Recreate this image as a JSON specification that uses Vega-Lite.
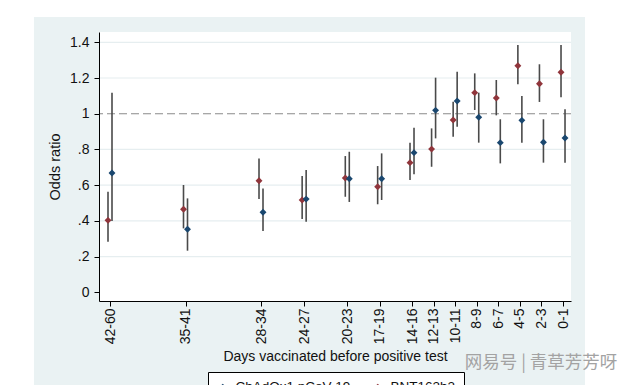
{
  "$schema": "https://vega.github.io/schema/vega-lite/v6.json",
  "width": 472,
  "height": 269,
  "autosize": "none",
  "padding": {"left": 99, "top": 32, "right": 69, "bottom": 84},
  "background": "white",
  "view": {"stroke": null},
  "config": {
    "font": "Liberation Sans",
    "axis": {
      "labelFont": "Liberation Sans",
      "titleFont": "Liberation Sans",
      "labelColor": "#111111",
      "titleColor": "#111111",
      "titleFontWeight": "normal",
      "domainColor": "#000000",
      "tickColor": "#000000",
      "domainWidth": 1,
      "tickWidth": 1,
      "tickSize": 5,
      "grid": false,
      "labelOverlap": false
    }
  },
  "datasets": {
    "estimates": [
      {"days": "42-60", "start": 42, "vaccine": "BNT162b2", "or": 0.403, "lo": 0.283, "hi": 0.563},
      {"days": "42-60", "start": 42, "vaccine": "ChAdOx1 nCoV-19", "or": 0.668, "lo": 0.40, "hi": 1.118},
      {"days": "35-41", "start": 35, "vaccine": "BNT162b2", "or": 0.465, "lo": 0.358, "hi": 0.601},
      {"days": "35-41", "start": 35, "vaccine": "ChAdOx1 nCoV-19", "or": 0.353, "lo": 0.233, "hi": 0.526},
      {"days": "28-34", "start": 28, "vaccine": "BNT162b2", "or": 0.625, "lo": 0.522, "hi": 0.750},
      {"days": "28-34", "start": 28, "vaccine": "ChAdOx1 nCoV-19", "or": 0.448, "lo": 0.343, "hi": 0.582},
      {"days": "24-27", "start": 24, "vaccine": "BNT162b2", "or": 0.517, "lo": 0.410, "hi": 0.651},
      {"days": "24-27", "start": 24, "vaccine": "ChAdOx1 nCoV-19", "or": 0.522, "lo": 0.395, "hi": 0.685},
      {"days": "20-23", "start": 20, "vaccine": "BNT162b2", "or": 0.640, "lo": 0.535, "hi": 0.763},
      {"days": "20-23", "start": 20, "vaccine": "ChAdOx1 nCoV-19", "or": 0.636, "lo": 0.506, "hi": 0.787},
      {"days": "17-19", "start": 17, "vaccine": "BNT162b2", "or": 0.591, "lo": 0.493, "hi": 0.707},
      {"days": "17-19", "start": 17, "vaccine": "ChAdOx1 nCoV-19", "or": 0.636, "lo": 0.517, "hi": 0.778},
      {"days": "14-16", "start": 14, "vaccine": "BNT162b2", "or": 0.726, "lo": 0.629, "hi": 0.838},
      {"days": "14-16", "start": 14, "vaccine": "ChAdOx1 nCoV-19", "or": 0.782, "lo": 0.661, "hi": 0.922},
      {"days": "12-13", "start": 12, "vaccine": "BNT162b2", "or": 0.802, "lo": 0.703, "hi": 0.918},
      {"days": "12-13", "start": 12, "vaccine": "ChAdOx1 nCoV-19", "or": 1.019, "lo": 0.862, "hi": 1.202},
      {"days": "10-11", "start": 10, "vaccine": "BNT162b2", "or": 0.965, "lo": 0.871, "hi": 1.067},
      {"days": "10-11", "start": 10, "vaccine": "ChAdOx1 nCoV-19", "or": 1.071, "lo": 0.927, "hi": 1.235},
      {"days": "8-9", "start": 8, "vaccine": "BNT162b2", "or": 1.118, "lo": 1.021, "hi": 1.226},
      {"days": "8-9", "start": 8, "vaccine": "ChAdOx1 nCoV-19", "or": 0.980, "lo": 0.838, "hi": 1.118},
      {"days": "6-7", "start": 6, "vaccine": "BNT162b2", "or": 1.088, "lo": 0.991, "hi": 1.189},
      {"days": "6-7", "start": 6, "vaccine": "ChAdOx1 nCoV-19", "or": 0.838, "lo": 0.722, "hi": 0.969},
      {"days": "4-5", "start": 4, "vaccine": "BNT162b2", "or": 1.269, "lo": 1.165, "hi": 1.385},
      {"days": "4-5", "start": 4, "vaccine": "ChAdOx1 nCoV-19", "or": 0.963, "lo": 0.838, "hi": 1.099},
      {"days": "2-3", "start": 2, "vaccine": "BNT162b2", "or": 1.168, "lo": 1.066, "hi": 1.277},
      {"days": "2-3", "start": 2, "vaccine": "ChAdOx1 nCoV-19", "or": 0.840, "lo": 0.726, "hi": 0.969},
      {"days": "0-1", "start": 0, "vaccine": "BNT162b2", "or": 1.232, "lo": 1.092, "hi": 1.385},
      {"days": "0-1", "start": 0, "vaccine": "ChAdOx1 nCoV-19", "or": 0.864, "lo": 0.726, "hi": 1.025}
    ],
    "gridlines": [
      {"g": 0.2}, {"g": 0.4}, {"g": 0.6}, {"g": 0.8}, {"g": 1.2}, {"g": 1.4}
    ]
  },
  "layer": [
    {
      "data": {"name": "estimates"},
      "transform": [{"filter": "datum.vaccine === 'BNT162b2'"}],
      "mark": {"type": "point", "shape": "diamond", "filled": true, "size": 48, "opacity": 0},
      "encoding": {
        "x": {
          "field": "start",
          "type": "quantitative",
          "scale": {"domain": [-0.74, 43.02], "reverse": true, "nice": false, "zero": false},
          "axis": {
            "zindex": 1,
            "title": "Days vaccinated before positive test",
            "titleFontSize": 14,
            "titlePadding": 6,
            "tickCount": 40,
            "values": [0, 2, 4, 6, 8, 10, 12, 14, 17, 20, 24, 28, 35, 42],
            "labelExpr": "['0-1','2-3','4-5','6-7','8-9','10-11','12-13','14-16','17-19','20-23','24-27','28-34','35-41','42-60'][indexof([0,2,4,6,8,10,12,14,17,20,24,28,35,42], datum.value)]",
            "labelAngle": 270,
            "labelAlign": "right",
            "labelBaseline": "middle",
            "labelFontSize": 14,
            "labelPadding": 2,
            "labelOverlap": false,
            "labelFlush": false
          }
        },
        "y": {
          "field": "or",
          "type": "quantitative",
          "scale": {"domain": [-0.0487, 1.4577], "nice": false, "zero": false},
          "axis": {
            "zindex": 1,
            "title": "Odds ratio",
            "titleFontSize": 14.5,
            "titlePadding": 7,
            "tickCount": 40,
            "values": [0, 0.2, 0.4, 0.6, 0.8, 1, 1.2, 1.4],
            "labelExpr": "datum.value == 0 ? '0' : datum.value == 1 ? '1' : datum.value < 1 ? substring(format(datum.value, '.1f'), 1) : format(datum.value, '.1f')",
            "labelFontSize": 14,
            "labelPadding": 5,
            "labelOverlap": false,
            "labelFlush": false
          }
        }
      }
    },
    {
      "data": {"values": [{}]},
      "mark": {"type": "rect", "color": "#EAF2F3"},
      "encoding": {
        "x": {"datum": 49.05, "type": "quantitative"},
        "x2": {"datum": -2.04},
        "y": {"datum": 1.5417, "type": "quantitative"},
        "y2": {"datum": -0.7}
      }
    },
    {
      "data": {"values": [{}]},
      "mark": {"type": "rect", "color": "#FFFFFF"},
      "encoding": {
        "x": {"datum": 43.02, "type": "quantitative"},
        "x2": {"datum": -0.74},
        "y": {"datum": 1.4577, "type": "quantitative"},
        "y2": {"datum": -0.0487}
      }
    },
    {
      "data": {"name": "gridlines"},
      "mark": {"type": "rule", "color": "#E6EEF0", "strokeWidth": 1.2},
      "encoding": {
        "y": {"field": "g", "type": "quantitative", "title": "Odds ratio"}
      }
    },
    {
      "data": {"values": [{}]},
      "mark": {"type": "rule", "color": "#8a8a8a", "strokeWidth": 1.1, "strokeDash": [8, 4]},
      "encoding": {
        "y": {"datum": 1, "type": "quantitative"}
      }
    },
    {
      "data": {"name": "estimates"},
      "transform": [{"filter": "datum.vaccine === 'BNT162b2'"}],
      "mark": {"type": "rule", "color": "#4a4a4a", "strokeWidth": 1.6, "xOffset": -2},
      "encoding": {
        "x": {"field": "start", "type": "quantitative", "title": "Days vaccinated before positive test"},
        "y": {"field": "lo", "type": "quantitative", "title": "Odds ratio"},
        "y2": {"field": "hi"}
      }
    },
    {
      "data": {"name": "estimates"},
      "transform": [{"filter": "datum.vaccine === 'ChAdOx1 nCoV-19'"}],
      "mark": {"type": "rule", "color": "#4a4a4a", "strokeWidth": 1.6, "xOffset": 2},
      "encoding": {
        "x": {"field": "start", "type": "quantitative", "title": "Days vaccinated before positive test"},
        "y": {"field": "lo", "type": "quantitative", "title": "Odds ratio"},
        "y2": {"field": "hi"}
      }
    },
    {
      "data": {"name": "estimates"},
      "transform": [{"filter": "datum.vaccine === 'BNT162b2'"}],
      "mark": {"type": "point", "shape": "diamond", "filled": true, "size": 48, "opacity": 1, "xOffset": -2},
      "encoding": {
        "x": {"field": "start", "type": "quantitative", "title": "Days vaccinated before positive test"},
        "y": {"field": "or", "type": "quantitative", "title": "Odds ratio"},
        "color": {"field": "vaccine", "type": "nominal"}
      }
    },
    {
      "data": {"name": "estimates"},
      "transform": [{"filter": "datum.vaccine === 'ChAdOx1 nCoV-19'"}],
      "mark": {"type": "point", "shape": "diamond", "filled": true, "size": 48, "opacity": 1, "xOffset": 2},
      "encoding": {
        "x": {"field": "start", "type": "quantitative", "title": "Days vaccinated before positive test"},
        "y": {"field": "or", "type": "quantitative", "title": "Odds ratio"},
        "color": {
          "field": "vaccine",
          "type": "nominal",
          "scale": {"domain": ["ChAdOx1 nCoV-19", "BNT162b2"], "range": ["#1A476F", "#90353B"]},
          "legend": {
            "title": null,
            "orient": "none",
            "legendX": 109,
            "legendY": 340,
            "direction": "horizontal",
            "fillColor": "white",
            "strokeColor": "#000000",
            "padding": 8,
            "cornerRadius": 0,
            "symbolType": "diamond",
            "symbolSize": 48,
            "symbolStrokeWidth": 0,
            "labelFont": "Liberation Sans",
            "labelFontSize": 13.5,
            "labelColor": "#111111",
            "labelOffset": 6,
            "columnPadding": 20
          }
        }
      }
    },
    {
      "data": {"values": [{"wm": "网易号 | 青草芳芳呀"}]},
      "mark": {"type": "text", "font": "Noto Sans CJK SC", "fontSize": 17.5, "color": "#a3a3a3", "align": "center", "baseline": "middle"},
      "encoding": {
        "x": {"datum": 2.04, "type": "quantitative"},
        "y": {"datum": -0.394, "type": "quantitative"},
        "text": {"field": "wm"}
      }
    }
  ]
}
